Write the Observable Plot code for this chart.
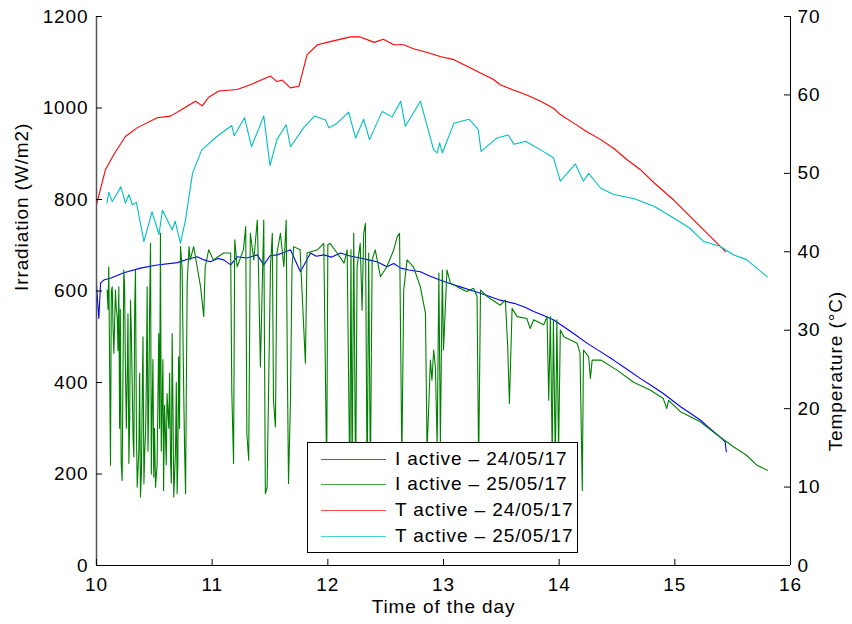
<!DOCTYPE html>
<html><head><meta charset="utf-8">
<script src="https://cdn.jsdelivr.net/npm/d3@7"></script>
<script src="https://cdn.jsdelivr.net/npm/@observablehq/plot@0.6"></script>
<style>
body{margin:0;background:#fff;}
#wrap{position:relative;width:852px;height:624px;font-family:"Liberation Sans",Arial,sans-serif;}
svg text{letter-spacing:0.9px;}
#legend{position:absolute;left:307px;top:442px;width:269px;height:109px;border:1px solid #000;background:#fff;}
.row{position:absolute;left:0;height:26px;display:flex;align-items:center;font-size:19px;letter-spacing:0.9px;color:#000;white-space:nowrap;}
.sw{width:65px;height:0;border-top:1.5px solid;margin-left:13px;margin-right:9px;opacity:0.7;}
</style></head>
<body><div id="wrap"></div>
<script>
// ---- data ----
const timeTicks = [10, 11, 12, 13, 14, 15, 16];
const irrTicks = [0, 200, 400, 600, 800, 1000, 1200];
const tempTicks = [0, 10, 20, 30, 40, 50, 60, 70];
const legendLabels = ["I active \u2013 24/05/17", "I active \u2013 25/05/17", "T active \u2013 24/05/17", "T active \u2013 25/05/17"];

// Irradiation 24/05/17 [hour, W/m2]
const irr24 = [[10.00,613],[10.02,540],[10.035,617],[10.063,624],[10.12,628],[10.236,640],[10.38,650],[10.525,657],[10.70,662],[10.78,669],[10.87,675],[10.93,668],[10.985,664],[11.05,671],[11.10,668],[11.16,657],[11.216,675],[11.30,672],[11.39,679],[11.446,657],[11.50,677],[11.56,679],[11.62,684],[11.677,690],[11.763,642],[11.85,683],[11.90,676],[11.965,679],[12.03,674],[12.11,683],[12.20,676],[12.28,672],[12.35,668],[12.426,664],[12.51,653],[12.57,660],[12.63,650],[12.70,646],[12.80,642],[12.88,633],[12.97,624],[13.06,616],[13.146,609],[13.23,602],[13.32,595],[13.40,588],[13.49,580],[13.61,573],[13.70,565],[13.78,555],[13.87,546],[13.95,537],[14.04,522],[14.125,507],[14.24,486],[14.36,467],[14.47,449],[14.58,430],[14.70,409],[14.80,393],[14.90,376],[15.05,347],[15.22,318],[15.30,300],[15.39,281],[15.435,270],[15.445,248]];

// Irradiation 25/05/17 [hour, W/m2]
const irr25 = [[10.092,602],[10.100,560],[10.106,653],[10.121,219],[10.128,600],[10.136,609],[10.143,520],[10.150,464],[10.164,602],[10.171,560],[10.179,544],[10.186,470],[10.193,609],[10.200,300],[10.206,560],[10.213,226],[10.222,186],[10.229,420],[10.236,646],[10.243,610],[10.250,434],[10.258,300],[10.265,405],[10.272,550],[10.280,223],[10.287,320],[10.294,580],[10.302,500],[10.309,390],[10.316,280],[10.323,237],[10.330,560],[10.337,646],[10.345,300],[10.352,171],[10.366,250],[10.373,420],[10.380,150],[10.388,200],[10.395,361],[10.402,500],[10.410,179],[10.417,250],[10.424,288],[10.431,400],[10.438,609],[10.445,250],[10.452,361],[10.459,560],[10.467,704],[10.474,200],[10.480,325],[10.488,450],[10.495,193],[10.502,300],[10.510,171],[10.524,220],[10.538,507],[10.545,300],[10.553,726],[10.560,250],[10.568,361],[10.574,450],[10.580,164],[10.588,350],[10.596,288],[10.603,220],[10.610,376],[10.625,300],[10.632,420],[10.640,230],[10.647,180],[10.654,507],[10.661,350],[10.668,150],[10.683,250],[10.690,400],[10.697,157],[10.703,220],[10.710,456],[10.718,300],[10.726,697],[10.740,650],[10.755,361],[10.762,250],[10.770,157],[10.777,400],[10.784,617],[10.800,697],[10.810,668],[10.840,697],[10.870,653],[10.900,609],[10.927,544],[10.940,653],[10.970,690],[11.010,668],[11.050,675],[11.100,683],[11.160,683],[11.170,376],[11.185,223],[11.195,712],[11.216,653],[11.270,690],[11.290,741],[11.300,288],[11.316,230],[11.330,726],[11.360,668],[11.390,755],[11.400,653],[11.417,434],[11.446,755],[11.460,157],[11.475,171],[11.504,653],[11.520,726],[11.530,361],[11.547,303],[11.560,683],[11.590,726],[11.620,653],[11.640,755],[11.650,434],[11.660,179],[11.677,361],[11.690,653],[11.705,697],[11.760,690],[11.806,442],[11.820,683],[11.910,690],[11.965,704],[11.990,200],[12.000,701],[12.020,704],[12.080,683],[12.140,661],[12.167,690],[12.190,180],[12.200,690],[12.210,200],[12.224,726],[12.240,170],[12.253,653],[12.280,704],[12.296,558],[12.310,726],[12.325,748],[12.340,160],[12.353,683],[12.368,190],[12.383,668],[12.410,690],[12.455,631],[12.510,653],[12.570,690],[12.600,719],[12.620,726],[12.640,230],[12.656,602],[12.685,668],[12.740,653],[12.800,609],[12.844,551],[12.858,250],[12.887,449],[12.900,405],[12.915,471],[12.930,434],[12.945,260],[12.960,639],[12.973,270],[12.990,646],[13.000,471],[13.030,646],[13.060,617],[13.120,609],[13.200,599],[13.260,606],[13.290,588],[13.304,220],[13.320,602],[13.377,588],[13.490,569],[13.535,580],[13.555,478],[13.570,354],[13.593,562],[13.636,544],[13.720,540],[13.750,518],[13.780,537],[13.866,526],[13.895,544],[13.910,361],[13.924,544],[13.940,240],[13.950,537],[13.967,230],[13.980,537],[13.995,250],[14.010,515],[14.040,500],[14.155,486],[14.180,464],[14.200,164],[14.210,471],[14.255,456],[14.270,409],[14.285,449],[14.360,449],[14.500,427],[14.640,401],[14.790,383],[14.900,365],[14.930,343],[14.946,361],[15.050,336],[15.220,314],[15.390,281],[15.510,259],[15.620,241],[15.710,219],[15.800,208]];

// Temperature 24/05/17 [hour, degC]
const temp24 = [[10.00,46.0],[10.078,50.5],[10.15,52.4],[10.25,54.7],[10.35,55.8],[10.525,57.1],[10.64,57.3],[10.755,58.3],[10.856,59.2],[10.914,58.6],[10.97,59.7],[11.057,60.5],[11.216,60.7],[11.33,61.3],[11.504,62.4],[11.56,61.7],[11.605,61.9],[11.677,60.9],[11.75,61.1],[11.82,65.1],[11.91,66.4],[12.02,66.8],[12.195,67.4],[12.28,67.4],[12.40,66.7],[12.48,67.1],[12.57,66.4],[12.656,66.4],[12.74,65.9],[12.86,65.4],[12.97,64.9],[13.09,64.5],[13.20,63.7],[13.32,62.8],[13.43,62.0],[13.49,61.3],[13.61,60.6],[13.72,60.0],[13.84,59.2],[13.95,58.3],[14.01,57.5],[14.125,56.4],[14.24,55.3],[14.36,54.3],[14.47,53.2],[14.59,51.7],[14.70,50.5],[14.82,48.8],[14.99,46.6],[15.16,44.1],[15.31,41.9],[15.44,40.0]];

// Temperature 25/05/17 [hour, degC]
const temp25 = [[10.09,46.2],[10.106,47.6],[10.136,46.4],[10.18,47.5],[10.21,48.3],[10.25,46.2],[10.28,47.3],[10.31,46.0],[10.345,46.3],[10.41,41.3],[10.48,45.1],[10.54,42.2],[10.57,45.3],[10.654,42.8],[10.68,43.9],[10.726,41.1],[10.77,44.1],[10.83,50.0],[10.91,53.0],[11.04,54.7],[11.17,56.1],[11.19,54.8],[11.28,57.1],[11.34,53.4],[11.446,57.3],[11.50,51.0],[11.56,54.3],[11.64,56.2],[11.677,53.4],[11.79,55.8],[11.884,57.3],[11.98,56.8],[12.01,55.8],[12.08,56.4],[12.18,57.8],[12.24,54.5],[12.31,56.9],[12.36,54.3],[12.47,57.9],[12.556,57.2],[12.63,59.2],[12.67,56.0],[12.80,59.2],[12.915,53.0],[12.945,52.6],[12.967,53.9],[12.99,52.6],[13.09,56.4],[13.22,56.9],[13.30,55.6],[13.325,52.8],[13.46,54.5],[13.56,54.9],[13.61,53.7],[13.71,54.1],[13.85,52.9],[13.95,52.0],[14.01,49.0],[14.14,51.2],[14.21,49.0],[14.255,50.0],[14.36,48.1],[14.47,47.3],[14.645,46.8],[14.82,45.8],[14.99,44.3],[15.13,43.0],[15.25,41.3],[15.39,40.7],[15.51,39.6],[15.62,39.0],[15.80,36.8]];

const colors = ["#0000ff", "#008000", "#ff0000", "#00bfbf"];
const IRR_MAX = 1200, TEMP_MAX = 70;
const tY = d => d * IRR_MAX / TEMP_MAX;

const plot = Plot.plot({
  width: 852, height: 624,
  marginLeft: 96, marginRight: 62, marginTop: 16, marginBottom: 59,
  style: {fontFamily: '"Liberation Sans", Arial, sans-serif', fontSize: "19px", color: "#000", background: "#fff"},
  x: {domain: [10, 16]},
  y: {domain: [0, IRR_MAX]},
  marks: [
    Plot.line(irr24, {x: d => d[0], y: d => d[1], stroke: colors[0], strokeWidth: 1.1}),
    Plot.line(irr25, {x: d => d[0], y: d => d[1], stroke: colors[1], strokeWidth: 1.1}),
    Plot.line(temp24, {x: d => d[0], y: d => tY(d[1]), stroke: colors[2], strokeWidth: 1.1}),
    Plot.line(temp25, {x: d => d[0], y: d => tY(d[1]), stroke: colors[3], strokeWidth: 1.1}),
    Plot.ruleX([10], {stroke: "#555", strokeWidth: 1.5}),
    Plot.ruleX([16], {stroke: "#000", strokeWidth: 1}),
    Plot.ruleY([0], {stroke: "#000", strokeWidth: 1}),
    Plot.tickY(irrTicks, {y: d => d, insetRight: 688, stroke: "#000"}),
    Plot.tickY(tempTicks, {y: d => tY(d), insetLeft: 688, stroke: "#000"}),
    Plot.tickX(timeTicks, {x: d => d, insetTop: 543, stroke: "#000"}),
    Plot.axisY({ticks: irrTicks, tickSize: 0, tickPadding: 8, label: null, tickFormat: d => String(d)}),
    Plot.axisX({ticks: timeTicks, tickSize: 0, tickPadding: 12, label: null, tickFormat: d => String(d)}),
    Plot.text(tempTicks, {y: d => tY(d), text: d => String(d), frameAnchor: "right", dx: 7, textAnchor: "start", fill: "#000"}),
    Plot.text(["Time of the day"], {frameAnchor: "bottom", dy: 47, fill: "#000"}),
    Plot.text(["Irradiation (W/m2)"], {frameAnchor: "left", dx: -75, rotate: -90, fill: "#000"}),
    Plot.text(["Temperature (\u00b0C)"], {frameAnchor: "right", dx: 45, rotate: -90, fill: "#000"})
  ]
});
const wrap = document.getElementById("wrap");
wrap.appendChild(plot);

const legend = document.createElement("div");
legend.id = "legend";
const rowCenters = [16, 41, 67, 93];
legendLabels.forEach((lab, i) => {
  const row = document.createElement("div");
  row.className = "row";
  row.style.top = (rowCenters[i] - 13) + "px";
  const sw = document.createElement("span");
  sw.className = "sw";
  sw.style.borderTopColor = colors[i];
  const tx = document.createElement("span");
  tx.textContent = lab;
  row.appendChild(sw); row.appendChild(tx);
  legend.appendChild(row);
});
wrap.appendChild(legend);
</script>
</body></html>
